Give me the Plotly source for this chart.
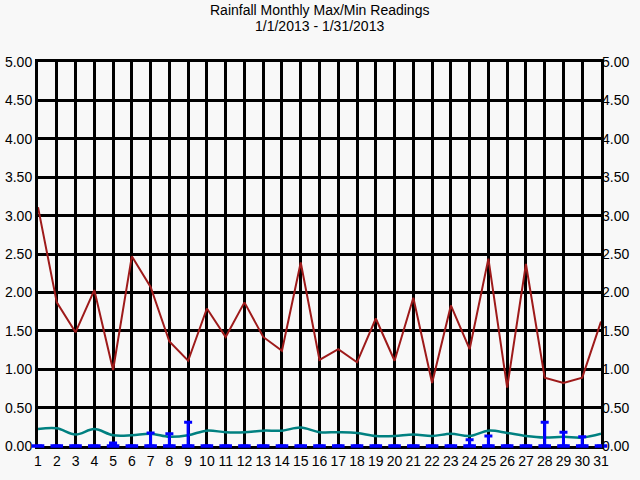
import plotly.graph_objects as go

days = list(range(1, 32))
max_vals = [3.11, 1.87, 1.48, 2.03, 0.99, 2.47, 2.07, 1.36, 1.11, 1.79,
            1.42, 1.87, 1.42, 1.24, 2.39, 1.12, 1.26, 1.09, 1.66, 1.11,
            1.93, 0.82, 1.83, 1.26, 2.44, 0.76, 2.37, 0.89, 0.82, 0.89, 1.62]
avg_vals = [0.22, 0.23, 0.15, 0.22, 0.14, 0.14, 0.16, 0.12, 0.14, 0.20,
            0.18, 0.18, 0.20, 0.20, 0.24, 0.18, 0.18, 0.17, 0.13, 0.13,
            0.15, 0.13, 0.16, 0.13, 0.20, 0.17, 0.13, 0.11, 0.12, 0.11, 0.16]
min_vals = [0, 0, 0, 0, 0.04, 0, 0.17, 0.16, 0.31, 0,
            0, 0, 0, 0, 0, 0, 0, 0, 0, 0,
            0, 0, 0, 0.08, 0.13, 0, 0, 0.31, 0.18, 0.12, 0]
y_ticks = [i * 0.5 for i in range(11)]
y_tick_text = [f"{v:.2f}" for v in y_ticks]
title_lines = ["Rainfall Monthly Max/Min Readings", "1/1/2013 - 1/31/2013"]

bg = "#f8f8f8"
fam = "Liberation Sans, Arial, sans-serif"
font = dict(family=fam, size=14, color="#000000")
blue = "#0000ff"

fig = go.Figure()
fig.add_trace(go.Scatter(x=days, y=max_vals, mode="lines",
                         line=dict(color="#9e1a1a", width=2), showlegend=False))
fig.add_trace(go.Scatter(x=days, y=avg_vals, mode="lines", line_shape="spline",
                         line=dict(color="#008080", width=2.5), showlegend=False))
fig.add_trace(go.Scatter(x=days, y=[0] * len(days), mode="markers",
                         marker=dict(symbol="line-ew", size=9, color=blue,
                                     line=dict(width=3.5, color=blue)),
                         error_y=dict(type="data", symmetric=False, array=min_vals,
                                      arrayminus=[0] * len(days), color=blue,
                                      thickness=3, width=4),
                         showlegend=False, cliponaxis=False))
fig.add_trace(go.Scatter(x=days, y=max_vals, yaxis="y2", mode="lines",
                         line=dict(width=0), opacity=0, showlegend=False, hoverinfo="skip"))

axis_common = dict(showgrid=True, gridcolor="#000000", gridwidth=3,
                   showline=True, linecolor="#000000", linewidth=3,
                   zeroline=False, ticks="", tickfont=font, automargin=False,
                   layer="below traces")

fig.update_layout(
    width=640, height=480,
    paper_bgcolor=bg, plot_bgcolor=bg,
    margin=dict(l=38, r=39, t=62, b=34, autoexpand=False),
    xaxis=dict(range=[1, 31], tickmode="array", tickvals=days,
               ticktext=[str(d) for d in days], mirror=True, **axis_common),
    yaxis=dict(range=[0, 5], tickmode="array", tickvals=y_ticks, ticktext=y_tick_text,
               mirror=True, **axis_common),
    yaxis2=dict(range=[0, 5], tickmode="array", tickvals=y_ticks, ticktext=y_tick_text,
                overlaying="y", side="right", showgrid=False, zeroline=False,
                ticks="", tickfont=font, showline=False, automargin=False),
    annotations=[
        dict(text=title_lines[0], x=0.5, xref="paper", y=1 + 52 / 384, yref="paper",
             xanchor="center", yanchor="middle", showarrow=False, font=font),
        dict(text=title_lines[1], x=0.5, xref="paper", y=1 + 36 / 384, yref="paper",
             xanchor="center", yanchor="middle", showarrow=False, font=font),
    ],
)

fig.write_html("out.html", config={"displayModeBar": False},
               post_script="document.body.style.margin='0';document.body.style.background='#f8f8f8';")
